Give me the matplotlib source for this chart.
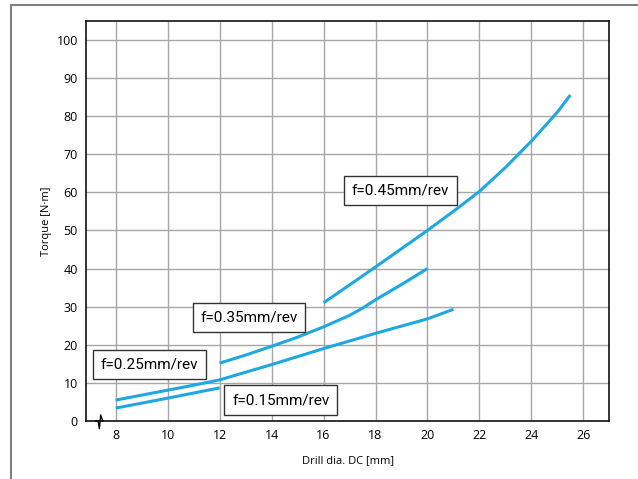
import matplotlib
matplotlib.use('Agg')
import matplotlib.pyplot as plt
from matplotlib.patches import Rectangle

# torque curves
dia_015 = [8, 10, 12]
torque_015 = [3.4, 6.0, 8.7]

dia_025 = [8, 9, 10, 11, 12, 13, 14, 16, 18, 20, 21]
torque_025 = [5.5, 6.8, 8.1, 9.4, 10.8, 12.8, 14.8, 19.0, 23.0, 26.8, 29.3]

dia_035 = [12, 13, 14, 15, 16, 17, 17.5, 18, 19, 20]
torque_035 = [15.2, 17.3, 19.6, 22.0, 24.7, 27.7, 29.6, 31.8, 35.8, 40.0]

dia_045 = [16, 17, 18, 19, 20, 21, 22, 23, 24, 25, 25.5]
torque_045 = [31.0, 35.7, 40.4, 45.2, 50.0, 55.0, 60.2, 66.5, 73.4, 81.0, 85.5]

labels = ['f=0.15mm/rev', 'f=0.25mm/rev', 'f=0.35mm/rev', 'f=0.45mm/rev']
label_x = [14.35, 9.3, 13.13, 18.96]
label_y = [5.5, 14.8, 27.1, 60.4]

x_ticks = list(range(8, 27, 2))
y_ticks = list(range(0, 101, 10))

line_color = '#1ea7e1'

plt.rcParams['font.family'] = ['Open Sans', 'DejaVu Sans']

fig = plt.figure(figsize=(6.38, 4.79), dpi=100)
ax = fig.add_axes([0.135, 0.121, 0.82, 0.835])

for xs, ys in [(dia_015, torque_015), (dia_025, torque_025),
               (dia_035, torque_035), (dia_045, torque_045)]:
    ax.plot(xs, ys, color=line_color, lw=2.2, solid_capstyle='butt', zorder=3)

for txt, tx, ty in zip(labels, label_x, label_y):
    ax.text(tx, ty, txt, ha='center', va='center', fontsize=11,
            family=['Roboto', 'DejaVu Sans'], zorder=4,
            bbox=dict(boxstyle='square,pad=0.5', fc='white', ec='#333333', lw=1))

ax.set_xlim(6.86, 27.0)
ax.set_ylim(0, 104.9)
ax.set_xticks(x_ticks)
ax.set_yticks(y_ticks)
ax.tick_params(length=0, labelsize=9, pad=6)
ax.grid(True, color='#a6a6a6', lw=1)
ax.set_axisbelow(True)
for s in ax.spines.values():
    s.set_color('#111111')
    s.set_linewidth(1.2)

ax.set_xlabel('Drill dia. DC [mm]', fontsize=8, labelpad=9)
ax.set_ylabel('Torque [N·m]', fontsize=8, labelpad=3)

# axis break mark
ax.plot([7.22, 7.32, 7.37, 7.42, 7.5], [0, 0, -2.0, 1.6, 0], color='black',
        lw=1, clip_on=False, zorder=5)

# outer frame of the figure
fig.patches.append(Rectangle((11 / 638, -0.1), 1.2, 1 - 5 / 479 + 0.1,
                             transform=fig.transFigure, fill=False,
                             ec='#808080', lw=1.5))

fig.savefig('out.png', dpi=100)
